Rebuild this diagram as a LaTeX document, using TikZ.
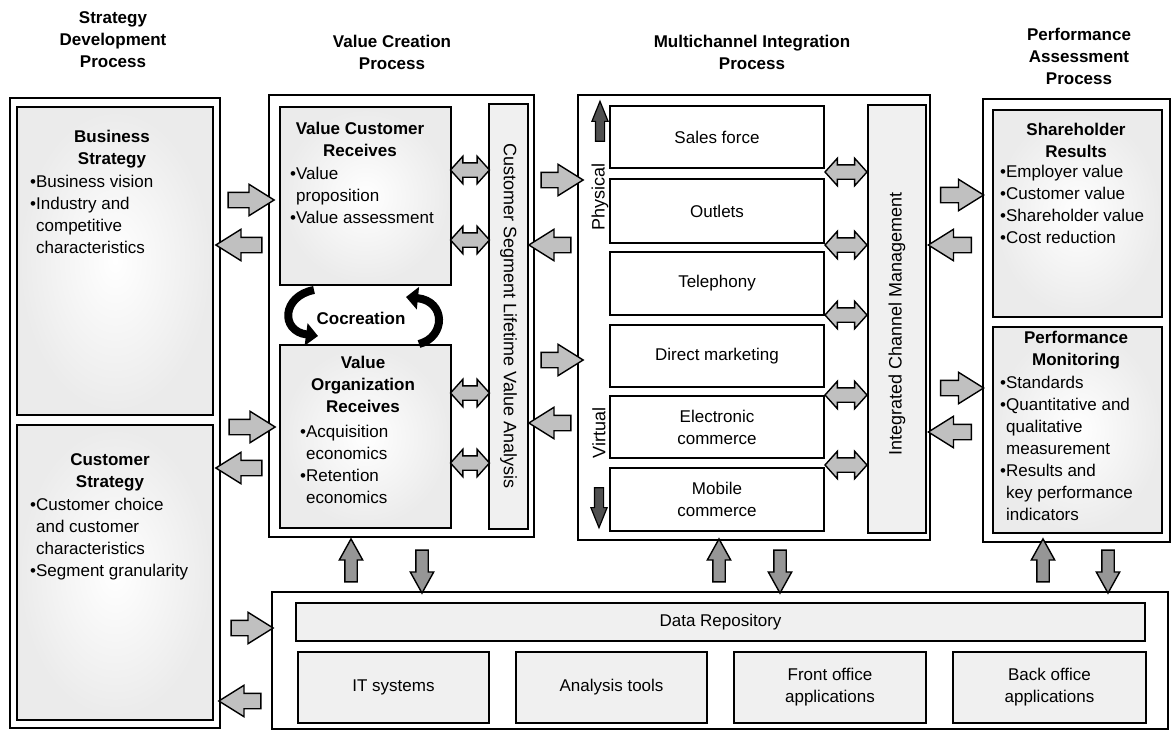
\documentclass[tikz,border=0pt]{standalone}
\usepackage{fontspec}
\setmainfont{Liberation Sans}
\usetikzlibrary{shapes.arrows,arrows.meta}
\definecolor{arrfill}{RGB}{192,192,192}
\definecolor{varrfill}{RGB}{150,150,150}
\definecolor{darkarr}{RGB}{80,80,80}
\definecolor{barfill}{RGB}{240,240,240}
\newcommand{\txt}{\fontsize{17}{22}\selectfont}
\newcommand{\rtxt}{\fontsize{18}{22}\selectfont}
\newcommand{\bul}{\textbullet}
\newcommand{\ind}{\hphantom{\textbullet}}
\tikzset{
 outerbox/.style={draw, line width=2.5pt, fill=white, inner sep=0pt, outer sep=0pt, anchor=north west},
 shbox/.style={draw, line width=2.2pt, inner sep=0pt, outer sep=0pt, anchor=north west, shade, inner color=white, outer color=gray!16},
 barbox/.style={draw, line width=2.2pt, inner sep=0pt, outer sep=0pt, anchor=north west, fill=barfill, font=\txt, align=center},
 chbox/.style={draw, line width=2.2pt, inner sep=0pt, outer sep=0pt, anchor=north west, fill=white, font=\txt, align=center},
 hdr/.style={font=\txt\bfseries, align=center, anchor=north, inner sep=0pt},
 lst/.style={font=\txt, align=left, anchor=north west, inner sep=0pt},
 rot/.style={font=\rtxt, inner sep=0pt},
 barr/.style={single arrow, draw, line width=1.4pt, fill=arrfill, inner xsep=0pt, inner ysep=7pt, outer sep=0pt,
   minimum width=30pt, single arrow head extend=8pt, single arrow tip angle=64, minimum height=46pt},
 darr/.style={double arrow, draw, line width=1.4pt, fill=arrfill, inner xsep=0pt, inner ysep=6.5pt, outer sep=0pt,
   minimum width=26pt, double arrow head extend=6.5pt, double arrow tip angle=96, minimum height=39pt},
 varr/.style={single arrow, draw, line width=1.4pt, fill=varrfill, inner xsep=0pt, inner ysep=5.5pt, outer sep=0pt,
   minimum width=22pt, single arrow head extend=5.5pt, single arrow tip angle=58, minimum height=43pt},
 parr/.style={single arrow, draw, line width=1.2pt, fill=darkarr, inner xsep=0pt, inner ysep=4pt, outer sep=0pt,
   minimum width=15pt, single arrow head extend=3.5pt, single arrow tip angle=44, minimum height=40pt},
 coc/.style={line width=8pt, -{Triangle[length=12pt,width=22pt]}},
}
\begin{document}
\begin{tikzpicture}[x=1pt,y=-1pt]
\useasboundingbox (0,0) rectangle (1171,731);
% headers
\node[hdr] (h1) at (113,11) {Strategy\\Development\\Process};
\node[hdr] (h2) at (392,35) {Value Creation\\Process};
\node[hdr] (h3) at (752,35) {Multichannel Integration\\Process};
\node[hdr] (h4) at (1079,28) {Performance\\Assessment\\Process};
% strategy development
\node[outerbox, minimum width=210pt, minimum height=630pt] (lo) at (10,98) {};
\node[shbox, minimum width=196pt, minimum height=308pt] (bs) at (17,107) {};
\node[shbox, minimum width=196pt, minimum height=295pt] (cs) at (17,425) {};
\node[hdr] (bst) at (112,130) {Business\\Strategy};
\node[lst] (bsl) at (30,175) {\bul Business vision\\\bul Industry and\\\ind competitive\\\ind characteristics};
\node[hdr] (cst) at (110,453) {Customer\\Strategy};
\node[lst] (csl) at (30,498) {\bul Customer choice\\\ind and customer\\\ind characteristics\\\bul Segment granularity};
% value creation
\node[outerbox, minimum width=265pt, minimum height=442pt] (vc) at (269,95) {};
\node[shbox, minimum width=171pt, minimum height=178pt] (vcr) at (280,107) {};
\node[shbox, minimum width=171pt, minimum height=183pt] (vo) at (280,345) {};
\node[barbox, minimum width=39pt, minimum height=425pt] (cslva) at (489,104) {};
\node[rot, rotate=-90] (cslvat) at (508.5,316) {Customer Segment Lifetime Value Analysis};
\node[hdr] (vcrt) at (360,122) {Value Customer\\Receives};
\node[lst] (vcrl) at (290,167) {\bul Value\\\ind proposition\\\bul Value assessment};
\node[hdr] (vot) at (363,356) {Value\\Organization\\Receives};
\node[lst] (vol) at (300,425) {\bul Acquisition\\\ind economics\\\bul Retention\\\ind economics};
\node[font=\txt\bfseries, inner sep=0pt] (coct) at (361,318) {Cocreation};
\coordinate (c1s) at (314,290);
\coordinate (c1e) at (318,336);
\coordinate (c2s) at (419,344);
\coordinate (c2e) at (406,297);
\draw[coc] (c1s) .. controls (282,296) and (280,331) .. (c1e);
\draw[coc] (c2s) .. controls (446,337) and (446,301) .. (c2e);
% multichannel
\node[outerbox, minimum width=352pt, minimum height=445pt] (mc) at (578,95) {};
\node[chbox, minimum width=214pt, minimum height=62pt] (sf) at (610,106) {Sales force};
\node[chbox, minimum width=214pt, minimum height=64pt] (ou) at (610,179) {Outlets};
\node[chbox, minimum width=214pt, minimum height=63pt] (te) at (610,252) {Telephony};
\node[chbox, minimum width=214pt, minimum height=62pt] (dm) at (610,325) {Direct marketing};
\node[chbox, minimum width=214pt, minimum height=62pt] (ec) at (610,396) {Electronic\\commerce};
\node[chbox, minimum width=214pt, minimum height=63pt] (mo) at (610,468) {Mobile\\commerce};
\node[barbox, minimum width=58pt, minimum height=428pt] (icm) at (868,105) {};
\node[rot, rotate=90] (icmt) at (897,324) {Integrated Channel Management};
\node[rot, rotate=90] (phys) at (600,197) {Physical};
\node[rot, rotate=90] (virt) at (599,433) {Virtual};
\node[parr, rotate=90] (pa1) at (600,127) {};
\node[parr, rotate=-90] (pa2) at (599,502) {};
% performance assessment
\node[outerbox, minimum width=187pt, minimum height=443pt] (pa) at (983,99) {};
\node[shbox, minimum width=169pt, minimum height=207pt] (sr) at (993,110) {};
\node[shbox, minimum width=169pt, minimum height=206pt] (pm) at (993,327) {};
\node[hdr] (srt) at (1076,123) {Shareholder\\Results};
\node[lst] (srl) at (1000,165) {\bul Employer value\\\bul Customer value\\\bul Shareholder value\\\bul Cost reduction};
\node[hdr] (pmt) at (1076,331) {Performance\\Monitoring};
\node[lst] (pml) at (1000,376) {\bul Standards\\\bul Quantitative and\\\ind qualitative\\\ind measurement\\\bul Results and\\\ind key performance\\\ind indicators};
% bottom
\node[outerbox, minimum width=896pt, minimum height=137pt] (bt) at (272,592) {};
\node[barbox, minimum width=849pt, minimum height=38pt] (dr) at (296,603) {Data Repository};
\node[barbox, minimum width=191pt, minimum height=71pt] (it) at (298,652) {IT systems};
\node[barbox, minimum width=191pt, minimum height=71pt] (an) at (516,652) {Analysis tools};
\node[barbox, minimum width=192pt, minimum height=71pt] (fo) at (734,652) {Front office\\applications};
\node[barbox, minimum width=193pt, minimum height=71pt] (bo) at (953,652) {Back office\\applications};
% big horizontal arrows
\node[barr] (a1) at (245,200) {};
\node[barr, rotate=180] (a2) at (245,245) {};
\node[barr] (a3) at (246,427) {};
\node[barr, rotate=180] (a4) at (245,468) {};
\node[barr, minimum height=42pt] (a5) at (246,628) {};
\node[barr, minimum height=42pt, rotate=180] (a6) at (246,701) {};
\node[barr, minimum height=42pt] (a7) at (556,180) {};
\node[barr, minimum height=42pt, rotate=180] (a8) at (556,245) {};
\node[barr, minimum height=42pt] (a9) at (556,360) {};
\node[barr, minimum height=42pt, rotate=180] (a10) at (556,423) {};
\node[barr, minimum height=43pt] (a11) at (956,195) {};
\node[barr, minimum height=43pt, rotate=180] (a12) at (956,245) {};
\node[barr, minimum height=43pt] (a13) at (956,388) {};
\node[barr, minimum height=43pt, rotate=180] (a14) at (956,432) {};
% double arrows
\node[darr] (d1) at (470,170) {};
\node[darr] (d2) at (470,240) {};
\node[darr] (d3) at (470,393) {};
\node[darr] (d4) at (470,463) {};
\node[darr, minimum height=42pt] (d5) at (846,172) {};
\node[darr, minimum height=42pt] (d6) at (846,245) {};
\node[darr, minimum height=42pt] (d7) at (846,315) {};
\node[darr, minimum height=42pt] (d8) at (846,395) {};
\node[darr, minimum height=42pt] (d9) at (846,465) {};
% vertical arrows
\node[varr, rotate=90] (v1) at (351,566) {};
\node[varr, rotate=-90] (v2) at (422,566) {};
\node[varr, rotate=90] (v3) at (719,566) {};
\node[varr, rotate=-90] (v4) at (780,566) {};
\node[varr, rotate=90] (v5) at (1043,566) {};
\node[varr, rotate=-90] (v6) at (1108,566) {};
\end{tikzpicture}
\end{document}
